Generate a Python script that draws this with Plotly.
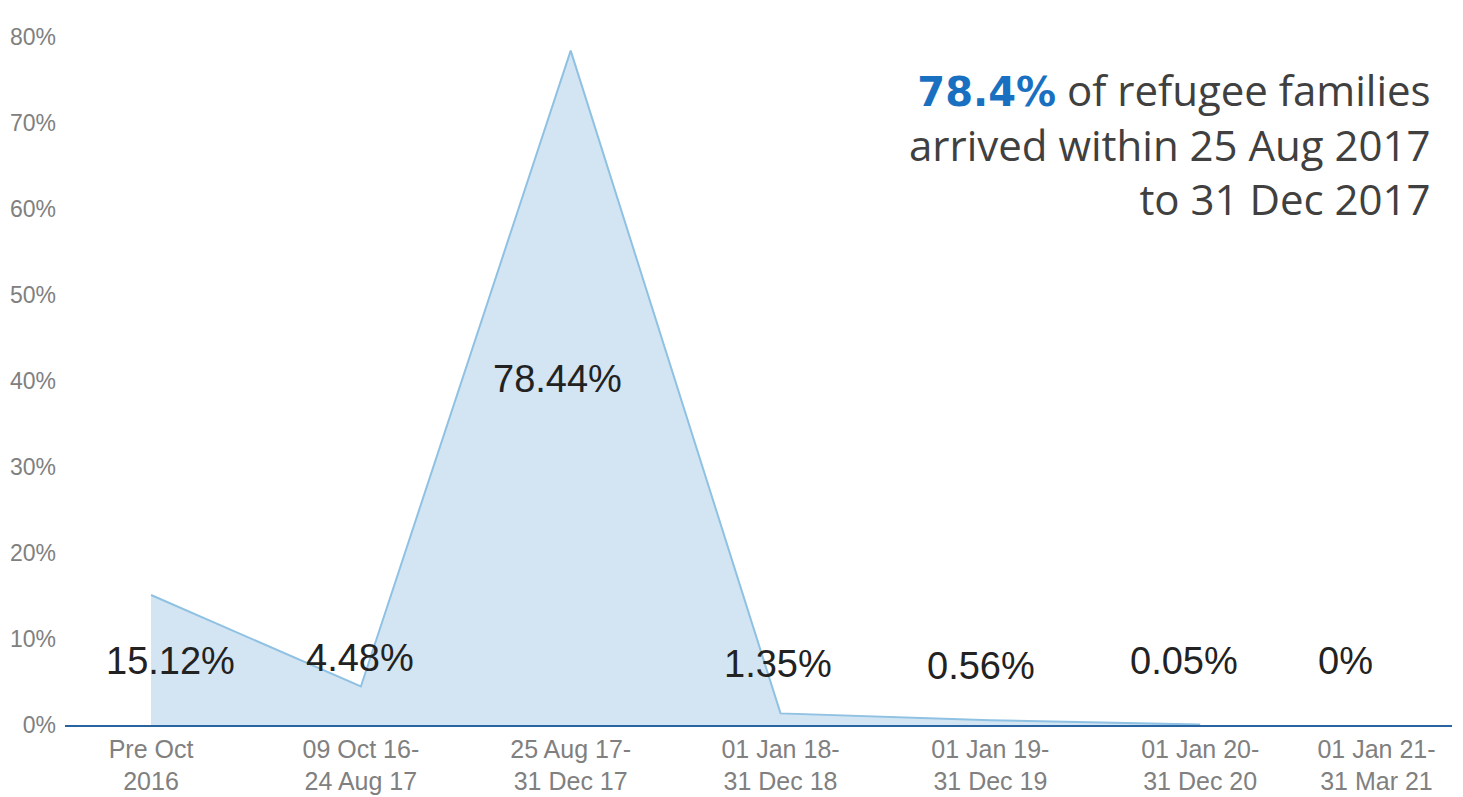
import plotly.graph_objects as go

categories = ["Pre Oct<br>2016", "09 Oct 16-<br>24 Aug 17", "25 Aug 17-<br>31 Dec 17",
              "01 Jan 18-<br>31 Dec 18", "01 Jan 19-<br>31 Dec 19", "01 Jan 20-<br>31 Dec 20",
              "01 Jan 21-<br>31 Mar 21"]
values = [15.12, 4.48, 78.44, 1.35, 0.56, 0.05, 0]
value_labels = ["15.12%", "4.48%", "78.44%", "1.35%", "0.56%", "0.05%", "0%"]
# number of periods drawn as area (last period has no arrivals and is not drawn)
n_area = 6

# label placement (style only)
label_y = [7.4, 7.8, 40.2, 7.1, 6.9, 7.4, 7.4]
label_xshift = [19, -1, -13, -3, -9, -16, -65]

x_idx = list(range(len(categories)))

# last tick label is nudged left (as in the original) so it stays inside the page
tickpos = x_idx[:-1] + [x_idx[-1] - 0.16]

fig = go.Figure()
fig.add_trace(go.Scatter(
    x=x_idx[:n_area], y=values[:n_area], mode="lines", fill="tozeroy",
    fillcolor="#d3e5f3", line=dict(color="#8fc1e3", width=2),
    hoverinfo="skip", showlegend=False))

for i, (lab, ly, xs) in enumerate(zip(value_labels, label_y, label_xshift)):
    fig.add_annotation(x=i, y=ly, text=lab, showarrow=False, xshift=xs,
                       font=dict(family="Liberation Sans, Arial", size=38, color="#222222"))

fig.add_annotation(
    xref="paper", yref="paper", x=0.986, y=0.8235, xanchor="right", yanchor="middle",
    align="right", showarrow=False,
    text="<span style='color:#1a70c0;font-family:DejaVu Sans;font-weight:bold;font-size:40px'>78.4%</span> of refugee families<br>arrived within 25 Aug 2017<br>to 31 Dec 2017",
    font=dict(family="Open Sans", size=42, color="#404040"))

# page body has an 8px default margin; figure sized to fit the window
fig.update_layout(
    width=1455, height=789, plot_bgcolor="white", paper_bgcolor="white",
    margin=dict(l=57, r=11, t=12, b=72),
    xaxis=dict(tickmode="array", tickvals=tickpos, ticktext=categories,
               range=[-0.41, 6.2], showgrid=False, zeroline=False,
               showline=True, linecolor="#2a64a0", linewidth=1.5, ticks="",
               automargin=False, ticklabeloverflow="allow", ticklabelstandoff=1,
               tickfont=dict(family="Liberation Sans, Arial", size=25, color="#808080")),
    yaxis=dict(range=[0, 82.0], tickvals=[0, 10, 20, 30, 40, 50, 60, 70, 80],
               ticktext=["0%", "10%", "20%", "30%", "40%", "50%", "60%", "70%", "80%"],
               showgrid=False, zeroline=False, showline=False, ticks="",
               automargin=False, ticklabelstandoff=8,
               tickfont=dict(family="Liberation Sans, Arial", size=23, color="#808080")),
)

fig.write_html("out.html")
